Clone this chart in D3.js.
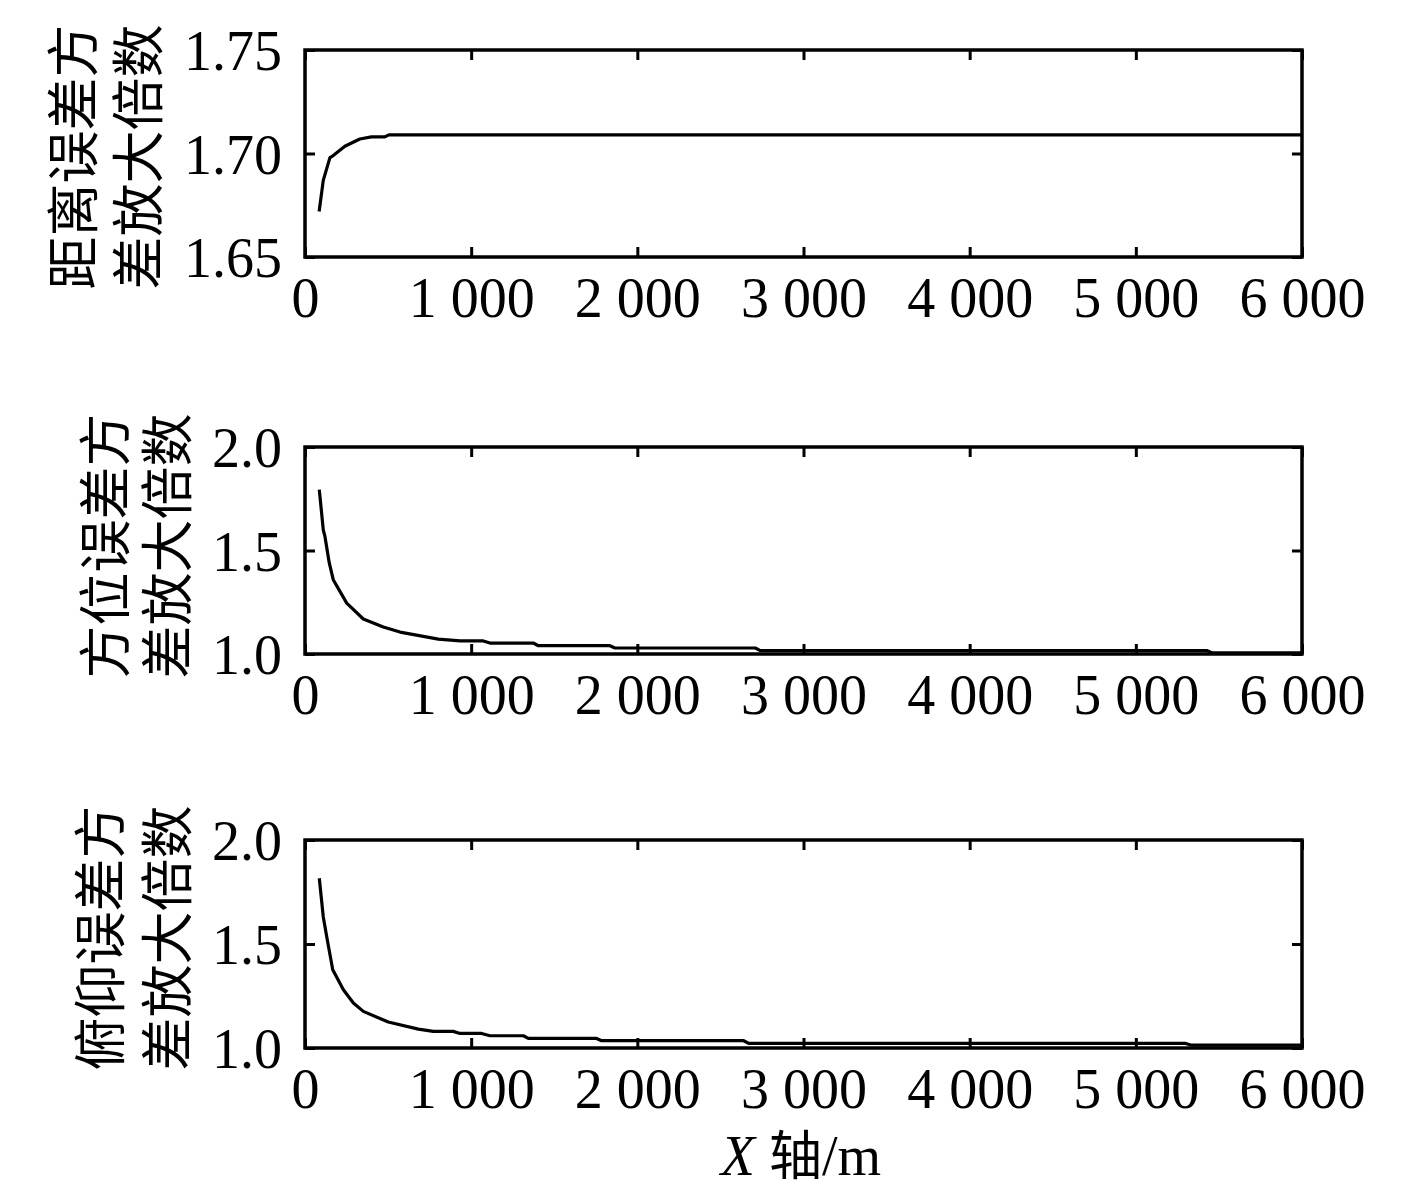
<!DOCTYPE html>
<html>
<head>
<meta charset="utf-8">
<script src="https://cdn.jsdelivr.net/npm/d3@7"></script>
<style>
  body { margin: 0; background: #fff; }
  text { fill: #000; }
  .num { font-family: "Liberation Serif", "Times New Roman", serif; font-size: 56px; }
  .cjk { font-family: "Noto Sans CJK SC", sans-serif; font-size: 53px; }
</style>
</head>
<body>
<div id="chart"></div>
<script>
// X ticks shared by all three panels
const xTicks = [0, 1000, 2000, 3000, 4000, 5000, 6000];

// Panel 1: range error variance amplification
const rangeX = [85, 110, 150, 170, 240, 330, 400, 480, 505, 6000];
const rangeY = [1.672, 1.687, 1.698, 1.699, 1.7035, 1.707, 1.708, 1.708, 1.709, 1.709];
const rangeTicks = [1.65, 1.70, 1.75];

// Panel 2: azimuth error variance amplification
const aziX = [86, 110, 120, 146, 170, 251, 351, 471, 572, 712, 802, 933, 1073, 1113, 1374, 1404, 1835, 1865, 2710, 2740, 5430, 5460, 6000];
const aziY = [1.794, 1.60, 1.568, 1.44, 1.359, 1.246, 1.169, 1.130, 1.106, 1.085, 1.072, 1.063, 1.063, 1.053, 1.053, 1.040, 1.040, 1.029, 1.029, 1.016, 1.016, 1.005, 1.005];

// Panel 3: elevation error variance amplification
const eleX = [86, 110, 134, 167, 231, 291, 351, 501, 682, 772, 892, 933, 1063, 1113, 1314, 1344, 1755, 1785, 2640, 2670, 5300, 5330, 6000];
const eleY = [1.816, 1.63, 1.520, 1.376, 1.280, 1.216, 1.176, 1.125, 1.091, 1.080, 1.080, 1.070, 1.070, 1.059, 1.059, 1.046, 1.046, 1.035, 1.035, 1.022, 1.022, 1.014, 1.014];
const ratioTicks = [1.0, 1.5, 2.0];

const panels = [
  { xs: rangeX, ys: rangeY, ticks: rangeTicks, fmt: '.2f', domain: [1.65, 1.75],
    top: 50, bottom: 257, label: ['距离误差方', '差放大倍数'], lx: [70, 135], ly: 157 },
  { xs: aziX, ys: aziY, ticks: ratioTicks, fmt: '.1f', domain: [1.0, 2.0],
    top: 447, bottom: 654, label: ['方位误差方', '差放大倍数'], lx: [102, 164], ly: 546 },
  { xs: eleX, ys: eleY, ticks: ratioTicks, fmt: '.1f', domain: [1.0, 2.0],
    top: 840, bottom: 1048, label: ['俯仰误差方', '差放大倍数'], lx: [97, 164], ly: 938 }
];

const width = 1417, height = 1193;
const left = 305, right = 1302;

const svg = d3.select('#chart').append('svg')
  .attr('width', width)
  .attr('height', height);

const x = d3.scaleLinear().domain([0, 6000]).range([left, right]);
const xFmt = d => d === 0 ? '0' : d3.format(',')(d).replace(',', ' ');

panels.forEach(p => {
  const y = d3.scaleLinear().domain(p.domain).range([p.bottom, p.top]);
  const g = svg.append('g');

  // inward ticks on all four sides
  const bottomAxis = g.append('g')
    .attr('transform', `translate(0,${p.bottom})`)
    .call(d3.axisBottom(x).tickValues(xTicks).tickSize(-10).tickPadding(22).tickFormat(xFmt));
  const topAxis = g.append('g')
    .attr('transform', `translate(0,${p.top})`)
    .call(d3.axisTop(x).tickValues(xTicks).tickSize(-10).tickFormat(''));
  const leftAxis = g.append('g')
    .attr('transform', `translate(${left},0)`)
    .call(d3.axisLeft(y).tickValues(p.ticks).tickSize(-10).tickPadding(23).tickFormat(d3.format(p.fmt)));
  const rightAxis = g.append('g')
    .attr('transform', `translate(${right},0)`)
    .call(d3.axisRight(y).tickValues(p.ticks).tickSize(-10).tickFormat(''));

  [bottomAxis, topAxis, leftAxis, rightAxis].forEach(a => {
    a.select('.domain').remove();
    a.selectAll('line').attr('stroke', '#000').attr('stroke-width', 3);
    a.selectAll('text').attr('class', 'num').attr('font-size', null).attr('font-family', null);
  });
  bottomAxis.selectAll('text').attr('dy', '0.68em');
  leftAxis.selectAll('text').attr('dy', '0.35em');

  // frame
  g.append('rect')
    .attr('x', left).attr('y', p.top)
    .attr('width', right - left).attr('height', p.bottom - p.top)
    .attr('fill', 'none').attr('stroke', '#000').attr('stroke-width', 3.5);

  // curve
  const pts = p.xs.map((v, i) => [v, p.ys[i]]);
  g.append('path')
    .datum(pts)
    .attr('fill', 'none')
    .attr('stroke', '#000')
    .attr('stroke-width', 3.2)
    .attr('stroke-linejoin', 'round')
    .attr('d', d3.line().x(d => x(d[0])).y(d => y(d[1])));

  // rotated y label in two columns
  p.label.forEach((t, i) => {
    g.append('text')
      .attr('class', 'cjk')
      .attr('transform', `translate(${p.lx[i]},${p.ly}) rotate(-90)`)
      .attr('text-anchor', 'middle')
      .attr('dominant-baseline', 'central')
      .text(t);
  });
});

// x axis title
const xt = svg.append('text')
  .attr('x', 801)
  .attr('y', 1175)
  .attr('text-anchor', 'middle');
xt.append('tspan').attr('class', 'num').attr('font-style', 'italic').text('X ');
xt.append('tspan').attr('class', 'cjk').attr('font-size', '52px').text('轴');
xt.append('tspan').attr('class', 'num').text('/m');
</script>
</body>
</html>
